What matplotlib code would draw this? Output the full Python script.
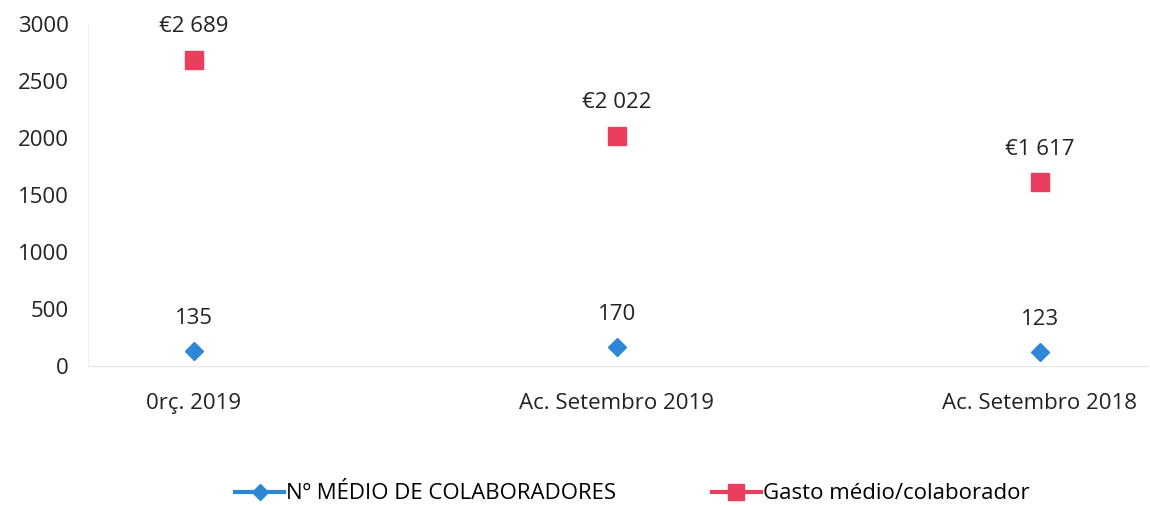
import matplotlib.pyplot as plt
from matplotlib.lines import Line2D

# Dados
categorias = ['0rç. 2019', 'Ac. Setembro 2019', 'Ac. Setembro 2018']
colaboradores = [135, 170, 123]
gasto_medio = [2689, 2022, 1617]
rotulos_gasto = ['€2 689', '€2 022', '€1 617']

azul = '#2e86d6'
vermelho = '#ea3e5f'

plt.rcParams['font.family'] = ['Open Sans', 'DejaVu Sans']

fig = plt.figure(figsize=(11.5, 5.05), dpi=100)
ax = fig.add_axes([0.0765, 0.275, 0.9215, 0.677])

x = list(range(len(categorias)))
ax.plot(x, colaboradores, linestyle='none', marker='D', markersize=9, color=azul)
ax.plot(x, gasto_medio, linestyle='none', marker='s', markersize=13, color=vermelho)

# rótulos de valores
for i in x:
    ax.annotate(str(colaboradores[i]), (i, colaboradores[i]), xytext=(0, 16),
                textcoords='offset points', ha='center', va='bottom', fontsize=16, color='#222222')
    ax.annotate(rotulos_gasto[i], (i, gasto_medio[i]), xytext=(0, 16),
                textcoords='offset points', ha='center', va='bottom', fontsize=16, color='#222222')

ax.set_xlim(-0.25, 2.255)
ax.set_ylim(0, 3000)
ax.set_yticks(range(0, 3001, 500))
ax.set_xticks(x)
ax.set_xticklabels(categorias)
ax.tick_params(axis='both', length=0, labelsize=16, colors='#222222')
ax.tick_params(axis='x', pad=19)
ax.tick_params(axis='y', pad=14)
for s in ['top', 'right']:
    ax.spines[s].set_visible(False)
ax.spines['left'].set_color('#f0f0f0')
ax.spines['bottom'].set_color('#e6e6e6')

handles = [
    Line2D([], [], color=azul, marker='D', markersize=8, linewidth=3),
    Line2D([], [], color=vermelho, marker='s', markersize=11, linewidth=3),
]
fig.legend(handles, ['Nº MÉDIO DE COLABORADORES', 'Gasto médio/colaborador'],
           loc='center', bbox_to_anchor=(0.55, 0.022), ncol=2, frameon=False,
           fontsize=16, handlelength=2.2, handletextpad=0.1, columnspacing=4.3)

fig.savefig('out.png', dpi=100)
